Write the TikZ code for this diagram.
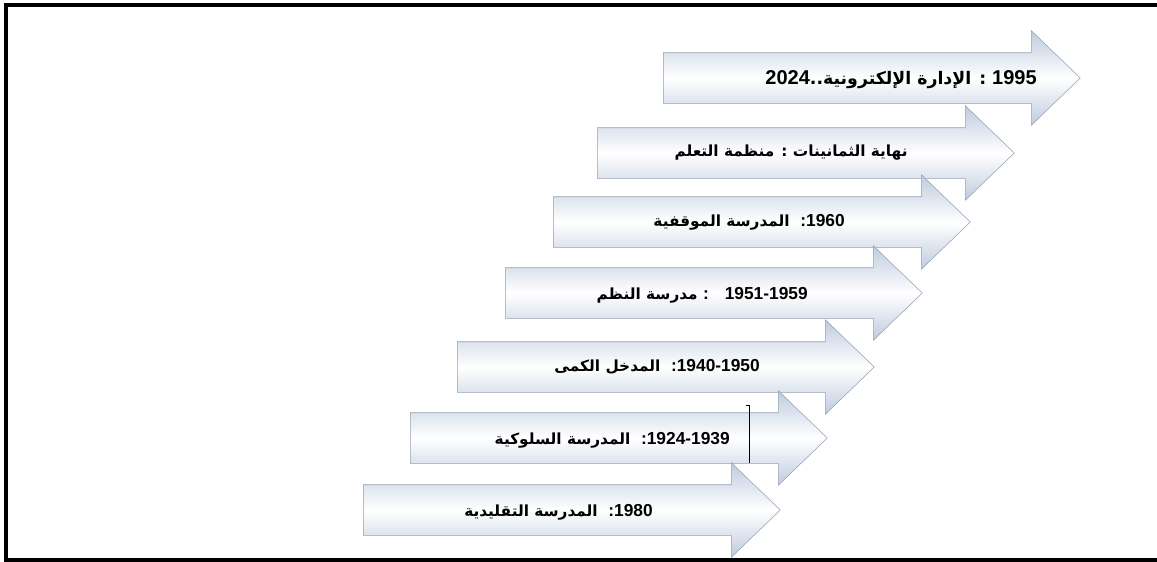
\documentclass[tikz,border=0pt]{standalone}
\usepackage{fontspec}
\usepackage{tikz}
\usetikzlibrary{shapes.arrows}
\TeXXeTstate=1
\newfontfamily\arabicfont[Script=Arabic]{DejaVu Sans}
\newfontfamily\numfont{Liberation Sans}
\newcommand{\yr}[1]{{\numfont\bfseries\fontsize{13}{15}\selectfont\beginL#1\endL}}
\newcommand{\sep}{{\numfont\bfseries\fontsize{13}{15}\selectfont :}}
\definecolor{barside}{RGB}{190,203,222}
\definecolor{barline}{RGB}{150,160,175}

\begin{document}
\begin{tikzpicture}[
  x=0.75pt, y=-0.75pt,
  every node/.style={font=\arabicfont\bfseries\fontsize{11.5}{13}\selectfont},
  era/.style={single arrow, draw=barline, anchor=tail, inner xsep=0pt,
              inner ysep=25*0.75pt, minimum height=417*0.75pt,
              minimum width=94*0.75pt, single arrow head extend=22*0.75pt,
              single arrow tip angle=88,
              top color=barside, bottom color=barside, middle color=white},
  lbl/.style={anchor=east, inner sep=0pt}
]
  \useasboundingbox (0,0) rectangle (1157,561);
  \draw[line width=3pt] (1157,5) -- (6,5) -- (6,559.5) -- (1157,559.5);

  \node[era] (eadmin)   at (663,78)  {};
  \node[era] (learnorg) at (597,153) {};
  \node[era] (contin)   at (553,222) {};
  \node[era] (systems)  at (505,293) {};
  \node[era] (quant)    at (457,367) {};
  \node[era] (behav)    at (410,438) {};
  \node[era] (classic)  at (363,510) {};

  \node[lbl, font=\arabicfont\bfseries\fontsize{13}{15}\selectfont] (eadmintxt) at (1037,80)
        {\beginR\yr{\fontsize{15}{17}\selectfont 1995} : الإدارة الإلكترونية..\yr{\fontsize{15}{17}\selectfont 2024}\endR};
  \node[lbl] (learnorgtxt) at (908,153)
        {\beginR نهاية الثمانينات : منظمة التعلم\endR};
  \node[lbl] (contintxt) at (845,222)
        {\beginR\yr{1960}\sep\ \ المدرسة الموقفية\endR};
  \node[lbl] (systemstxt) at (808,295)
        {\beginR\yr{1951-1959}\ \ \ \sep\ مدرسة النظم\endR};
  \node[lbl] (quanttxt) at (760,367)
        {\beginR\yr{1940-1950}\sep\ \ المدخل الكمى\endR};
  \node[lbl] (behavtxt) at (730,440)
        {\beginR\yr{1924-1939}\sep\ \ المدرسة السلوكية\endR};
  \node[lbl] (classictxt) at (653,512)
        {\beginR\yr{1980}\sep\ \ المدرسة التقليدية\endR};

  \draw (746,405) -- (749,405) -- (749,463);
\end{tikzpicture}
\end{document}
